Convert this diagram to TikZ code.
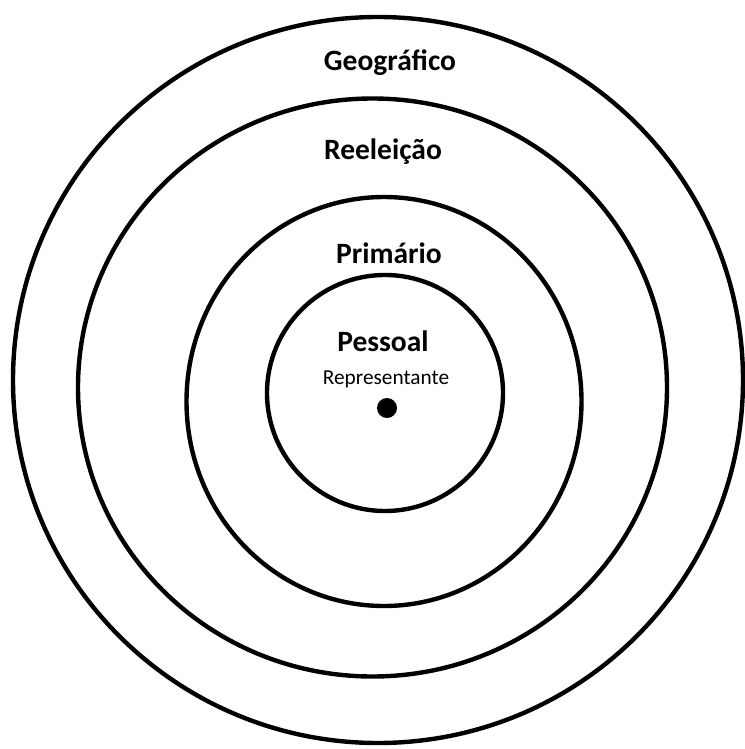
\documentclass[tikz,border=0pt]{standalone}
\usepackage{fontspec}
\setmainfont{Carlito}
\usetikzlibrary{positioning}
\tikzset{ring/.style={draw,line width=4.4pt},
  ringlabel/.style={font=\fontsize{29.5}{34}\selectfont\bfseries,inner sep=0pt},
  sublabel/.style={font=\fontsize{21.3}{25}\selectfont,inner sep=0pt},
  seat/.style={circle,fill,minimum size=20pt,inner sep=0pt}}

\begin{document}
\begin{tikzpicture}[x=1pt,y=-1pt]
\useasboundingbox (0,0) rectangle (744,749);
\draw[ring] (378,380) ellipse [x radius=365,y radius=363];
\draw[ring] (372.5,387.5) ellipse [x radius=294.5,y radius=289];
\draw[ring] (384,401.5) ellipse [x radius=197.5,y radius=204.5];
\draw[ring] (385,393) ellipse [x radius=118,y radius=118];
\node[ringlabel] (geo) at (390,63) {Geográfico};
\node[ringlabel] (reel) at (383,152) {Reeleição};
\node[ringlabel] (prim) at (389,253) {Primário};
\node[ringlabel] (pess) at (383,341) {Pessoal};
\node[sublabel] (repr) at (386,379) {Representante};
\node[seat] (rep) at (387,408) {};
\end{tikzpicture}
\end{document}
